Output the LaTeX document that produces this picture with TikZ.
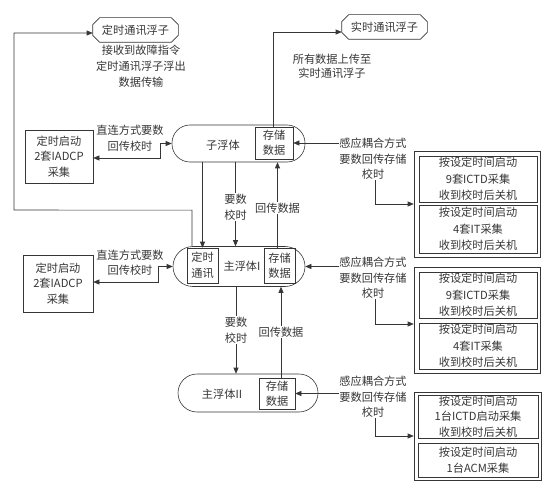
\documentclass[tikz,border=0pt]{standalone}
\usepackage{fontspec}
\setmainfont{Noto Sans CJK SC}
\usetikzlibrary{arrows.meta}
\definecolor{ink}{HTML}{363636}
\newcommand{\octframe}[1]{%
  \draw[ink] ([xshift=7pt]#1.north west) -- ([xshift=-7pt]#1.north east)
    -- ([yshift=-7pt]#1.north east) -- ([yshift=7pt]#1.south east)
    -- ([xshift=-7pt]#1.south east) -- ([xshift=7pt]#1.south west)
    -- ([yshift=7pt]#1.south west) -- ([yshift=-7pt]#1.north west) -- cycle;}
\begin{document}
\begin{tikzpicture}[x=1pt,y=-1pt,
  font=\fontsize{11.2}{15.5}\selectfont,
  line width=0.6pt,
  every node/.style={text=ink},
  txt/.style={align=center,inner sep=0pt},
  lbl/.style={align=center,inner sep=1pt,fill=white},
  box/.style={draw=ink,align=center,inner sep=0pt},
  pill/.style={draw=ink,rounded corners=18pt,inner sep=0pt},
  buoy/.style={inner sep=0pt,minimum width=85pt,minimum height=24pt},
  arr/.style={draw=ink,-{Triangle[length=6pt,width=5pt]}},
  darr/.style={draw=ink,{Triangle[length=6pt,width=5pt]}-{Triangle[length=6pt,width=5pt]}}
]
\useasboundingbox (0,0) rectangle (554,489);

% floats at the top
\node[buoy] (ds) at (135.5,30) {定时通讯浮子};
\octframe{ds}
\node[buoy] (rs) at (384.5,27) {实时通讯浮子};
\octframe{rs}
\node[txt,font=\fontsize{11.2}{16}\selectfont] (t1) at (141,66) {接收到故障指令\\定时通讯浮子浮出\\数据传输};
\node[txt,font=\fontsize{11.2}{13.5}\selectfont] (t2) at (332,66.5) {所有数据上传至\\实时通讯浮子};

% sub float
\node[pill,minimum width=133pt,minimum height=37pt] (sub) at (238.5,143.5) {};
\node[box,minimum width=38pt,minimum height=32pt] (subS) at (274,143) {存储\\数据};
\node[txt] (subL) at (223,145) {子浮体};

% main float I
\node[pill,minimum width=132pt,minimum height=40pt,rounded corners=20pt] (m1) at (239,266.5) {};
\node[box,minimum width=31pt,minimum height=35pt] (m1T) at (202.5,265.5) {定时\\通讯};
\node[box,minimum width=31pt,minimum height=35pt] (m1S) at (279.5,265.5) {存储\\数据};
\node[txt] (m1L) at (242,266) {主浮体I};

% main float II
\node[pill,minimum width=140pt,minimum height=38pt,rounded corners=19pt] (m2) at (248,393) {};
\node[box,minimum width=36pt,minimum height=31pt] (m2S) at (277,393.5) {存储\\数据};
\node[txt] (m2L) at (222,394) {主浮体II};

% left IADCP boxes
\node[box,minimum width=68pt,minimum height=53pt] (L1) at (59,156.5) {定时启动\\2套IADCP\\采集};
\node[box,minimum width=70pt,minimum height=57pt] (L2) at (58,283.5) {定时启动\\2套IADCP\\采集};
\node[txt] (l1) at (130,138) {直连方式要数\\回传校时};
\node[txt] (l2) at (130,262.5) {直连方式要数\\回传校时};

% right groups
\node[box,minimum width=126pt,minimum height=106pt] (g1) at (477,204) {};
\node[box,minimum width=118pt,minimum height=46pt,font=\fontsize{11.2}{16.5}\selectfont] (g1a) at (478,179) {按设定时间启动\\9套ICTD采集\\收到校时后关机};
\node[box,minimum width=118pt,minimum height=48pt,font=\fontsize{11.2}{16.5}\selectfont] (g1b) at (478,229) {按设定时间启动\\4套IT采集\\收到校时后关机};

\node[box,minimum width=126pt,minimum height=106pt] (g2) at (477,320) {};
\node[box,minimum width=118pt,minimum height=46pt,font=\fontsize{11.2}{16.5}\selectfont] (g2a) at (478,295) {按设定时间启动\\9套ICTD采集\\收到校时后关机};
\node[box,minimum width=118pt,minimum height=46pt,font=\fontsize{11.2}{16.5}\selectfont] (g2b) at (478,346) {按设定时间启动\\4套IT采集\\收到校时后关机};

\node[box,minimum width=127pt,minimum height=88pt] (g3) at (477.5,436) {};
\node[box,minimum width=120pt,minimum height=43pt,font=\fontsize{11.2}{15.5}\selectfont] (g3a) at (478,416.5) {按设定时间启动\\1台ICTD启动采集\\收到校时后关机};
\node[box,minimum width=120pt,minimum height=34pt,font=\fontsize{11.2}{16}\selectfont] (g3b) at (478,460) {按设定时间启动\\1台ACM采集};

\node[txt] (r1) at (373,159) {感应耦合方式\\要数回传存储\\校时};
\node[txt] (r2) at (373,278) {感应耦合方式\\要数回传存储\\校时};
\node[txt] (r3) at (373,397) {感应耦合方式\\要数回传存储\\校时};

% connectors to the top floats
\draw[arr] ([xshift=-47pt]m1.north) -- ++(0,-36) -- (14,210) |- ([yshift=-3pt]ds.west);
\draw[arr] ([xshift=-1pt]subS.north) |- ([yshift=-5pt]rs.west);

% left connectors
\draw[darr] ([yshift=-1.5pt]L1.east) -- ++(67,0) |- (sub.west);
\draw[darr] ([yshift=1.5pt]L2.east) -- ++(65,0) |- (m1.west);

% vertical connectors
\draw[arr] (m1T.north |- sub.south) -- (m1T.north);
\draw[arr] ([xshift=-3pt]sub.south) -- ([xshift=-3pt]sub.south |- m1.north)
  node[lbl,midway,yshift=-3pt] {要数\\校时};
\draw[arr] ([xshift=-2pt]m1S.north) -- ([xshift=-2pt]m1S.north |- sub.south)
  node[lbl,midway,yshift=-3pt] {回传数据};
\draw[arr] ([xshift=-3pt]m1.south) -- ([xshift=-3pt]m1.south |- m2.north)
  node[lbl,midway] {要数\\校时};
\draw[arr] ([xshift=4pt]m2S.north) -- ([xshift=4pt]m2S.north |- m1.south)
  node[lbl,midway] {回传数据};

% right connectors
\draw[arr] (r1.west |- subS.east) -- (subS.east);
\draw[arr] ([xshift=2pt]r1.south) |- (g1.west);
\draw[arr] (r2.west |- m1.east) -- (m1.east);
\draw[arr] ([xshift=2pt]r2.south) |- ([yshift=-4pt]g2.west);
\draw[arr] (r3.west |- m2S.east) -- (m2S.east);
\draw[arr] ([xshift=2pt]r3.south) |- (g3.west);
\end{tikzpicture}
\end{document}
